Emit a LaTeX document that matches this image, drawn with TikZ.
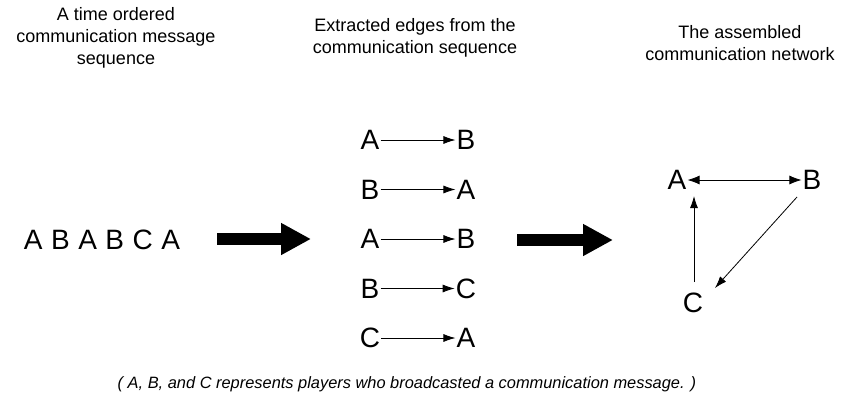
\documentclass[tikz,border=0pt]{standalone}
\usepackage{fontspec}
\setmainfont{Liberation Sans}
\usetikzlibrary{arrows.meta}
\begin{document}
\begin{tikzpicture}[x=1pt,y=-1pt,
  head/.style={align=center,font=\fontsize{18}{22}\selectfont},
  letter/.style={font=\fontsize{28}{28}\selectfont,inner sep=1pt},
  edge/.style={-{Latex[length=12pt,width=8pt]},line width=0.8pt},
  big/.style={-{Triangle[length=30pt,width=30pt]},line width=12pt}]
\useasboundingbox (0,0) rectangle (843,402);
\node[head] (h1) at (116,38) {A time ordered\\communication message\\sequence};
\node[head] (h2) at (415,38) {Extracted edges from the\\communication sequence};
\node[head] (h3) at (740,43) {The assembled\\communication network};
\node[font=\fontsize{28}{28}\selectfont] (seq) at (102,240) {A\hspace{8.5pt}B\hspace{8.5pt}A\hspace{8.5pt}B\hspace{8.5pt}C\hspace{8.5pt}A};
\coordinate (b1s) at (217,239); \coordinate (b1e) at (311,239);
\draw[big] (b1s) -- (b1e);
\coordinate (b2s) at (517,240); \coordinate (b2e) at (613,240);
\draw[big] (b2s) -- (b2e);
\foreach \i/\y/\s/\t in {1/140/A/B,2/189.5/B/A,3/239/A/B,4/288.5/B/C,5/338/C/A}{
  \node[letter] (s\i) at (370,\y) {\s};
  \node[letter] (t\i) at (466,\y) {\t};
  \draw[edge] (s\i) -- (t\i);
}
\node[letter] (A) at (677,180) {A};
\node[letter] (B) at (812,180) {B};
\node[letter] (C) at (693,303) {C};
\draw[edge,{Latex[length=12pt,width=9pt]}-{Latex[length=12pt,width=9pt]}] (A) -- (B);
\coordinate (ca0) at (694,282); \coordinate (ca1) at (694,196);
\draw[edge] (ca0) -- (ca1);
\coordinate (bc0) at (797,197); \coordinate (bc1) at (715,288);
\draw[edge] (bc0) -- (bc1);
\node[font=\itshape\fontsize{16.4}{16}\selectfont] (cap) at (407,384) {( A, B, and C represents players who broadcasted a communication message. )};
\end{tikzpicture}
\end{document}
